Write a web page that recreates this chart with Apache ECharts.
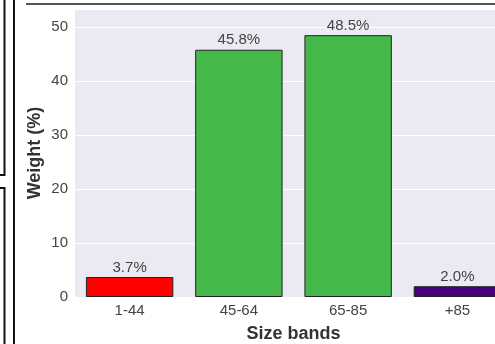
<!DOCTYPE html>
<html>
<head>
<meta charset="utf-8">
<script src="https://cdn.jsdelivr.net/npm/echarts@6/dist/echarts.min.js"></script>
<style>
  html, body { margin: 0; padding: 0; background: #fff; }
  #chart { width: 495px; height: 344px; }
</style>
</head>
<body>
<div id="chart"></div>
<script>
var dom = document.getElementById('chart');
var chart = echarts.init(dom, null, { renderer: 'canvas' });

// data
var categories = ['1-44', '45-64', '65-85', '+85'];
var weights = [3.7, 45.8, 48.5, 2.0];
var barColors = ['#ff0000', '#44b848', '#44b848', '#4b0082'];
var yTicks = [0, 10, 20, 30, 40, 50];

var textColor = '#444444';

var option = {
    animation: false,
    grid: {
        left: 75,
        top: 9,
        width: 437,
        bottom: 47,
        outerBoundsMode: 'none',
        show: true,
        backgroundColor: '#eaeaf2',
        borderWidth: 0
    },
    xAxis: {
        type: 'category',
        data: categories,
        name: 'Size bands',
        nameLocation: 'middle',
        nameGap: 28,
        nameMoveOverlap: false,
        nameTextStyle: { fontFamily: 'Liberation Sans', fontSize: 18, fontWeight: 'bold', color: '#333' },
        axisLine: { show: false },
        axisTick: { show: false },
        axisLabel: { fontFamily: 'Liberation Sans', fontSize: 15, color: textColor, margin: 6 }
    },
    yAxis: {
        type: 'value',
        min: 0,
        max: 53.35,
        interval: 10,
        name: 'Weight (%)',
        nameLocation: 'middle',
        nameGap: 31,
        nameMoveOverlap: false,
        nameTextStyle: { fontFamily: 'Liberation Sans', fontSize: 18, fontWeight: 'bold', color: '#333' },
        axisLine: { show: false },
        axisTick: { show: false },
        axisLabel: {
            fontFamily: 'Liberation Sans', fontSize: 15, color: textColor, margin: 7,
            showMaxLabel: false,
            formatter: function (v) { return yTicks.indexOf(v) >= 0 ? String(v) : ''; }
        },
        splitLine: { lineStyle: { color: '#ffffff', width: 1 } }
    },
    series: [{
        type: 'bar',
        barWidth: '80%',
        data: weights.map(function (v, i) {
            return { value: v, itemStyle: { color: barColors[i] } };
        }),
        itemStyle: { borderColor: '#222', borderWidth: 1 },
        label: {
            show: true,
            position: 'top',
            distance: 2,
            fontFamily: 'Liberation Sans',
            fontSize: 15,
            color: textColor,
            formatter: function (p) { return p.value.toFixed(1) + '%'; }
        }
    }],
    graphic: [
        // frame lines from the surrounding screenshot
        { type: 'line', shape: { x1: 26, y1: 4, x2: 495, y2: 4 }, style: { stroke: '#555', lineWidth: 2 } },
        { type: 'polyline', shape: { points: [[4.5, 0], [4.5, 175], [0, 175]] }, style: { stroke: '#111', lineWidth: 2, fill: null } },
        { type: 'polyline', shape: { points: [[0, 188], [4.5, 188], [4.5, 344]] }, style: { stroke: '#111', lineWidth: 2, fill: null } },
        { type: 'line', shape: { x1: 14, y1: 0, x2: 14, y2: 344 }, style: { stroke: '#111', lineWidth: 2 } }
    ]
};

chart.setOption(option);
window.addEventListener('resize', function () {
    chart.resize();
});
</script>
</body>
</html>
